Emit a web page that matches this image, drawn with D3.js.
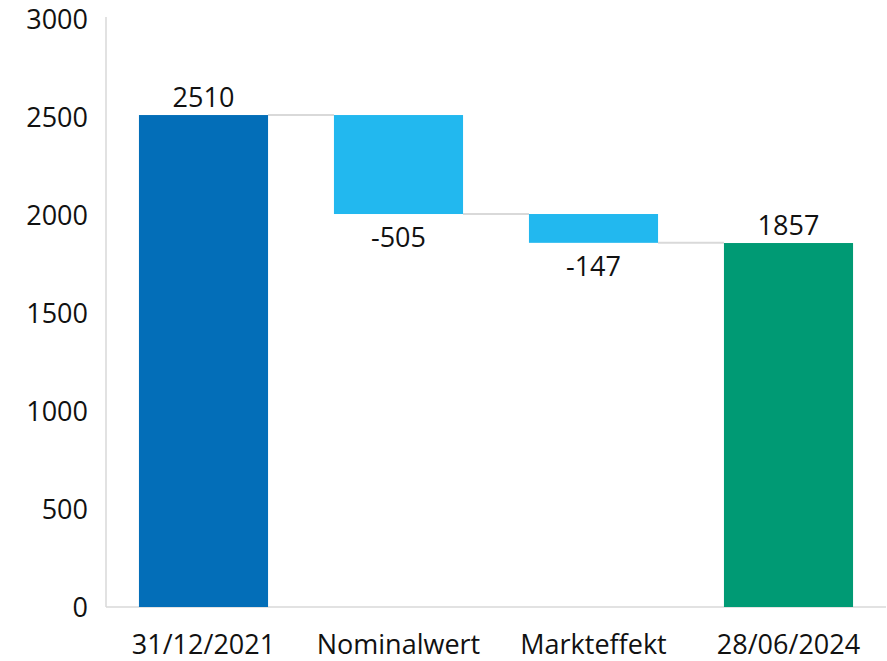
<!DOCTYPE html>
<html>
<head>
<meta charset="utf-8">
<script src="https://cdn.jsdelivr.net/npm/d3@7"></script>
<style>
  body { margin: 0; background: #fff; }
  text { font-family: "Open Sans", "Noto Sans", sans-serif; }
</style>
</head>
<body>
<script>
// waterfall data
var categories = ["31/12/2021", "Nominalwert", "Markteffekt", "28/06/2024"];
var values = [2510, -505, -147, 1857];
var kinds = ["total", "delta", "delta", "total"];
var yTicks = [0, 500, 1000, 1500, 2000, 2500, 3000];

var colors = { start: "#036EB8", delta: "#22B8EF", end: "#009A74" };

var width = 887, height = 661;
var plotLeft = 106, plotRight = 886, plotTop = 19, plotBottom = 607;
var fontSize = 27;

// build bars: start / end of each step
var bars = [];
var running = 0;
for (var i = 0; i < values.length; i++) {
    var b = { cat: categories[i], value: values[i], kind: kinds[i] };
    if (kinds[i] === "total") {
        b.y0 = 0; b.y1 = values[i];
        running = values[i];
    } else {
        b.y0 = running; b.y1 = running + values[i];
        running = b.y1;
    }
    b.color = i === 0 ? colors.start : (kinds[i] === "total" ? colors.end : colors.delta);
    bars.push(b);
}

var svg = d3.select("body").append("svg")
    .attr("width", width)
    .attr("height", height);

var x = d3.scaleBand()
    .domain(categories)
    .range([plotLeft, plotRight])
    .paddingInner(0.338)
    .paddingOuter(0.169);

var y = d3.scaleLinear()
    .domain([0, 3000])
    .range([plotBottom, plotTop]);

// axis lines
svg.append("line")
    .attr("x1", plotLeft).attr("x2", plotLeft)
    .attr("y1", y(3000) - 2).attr("y2", plotBottom)
    .attr("stroke", "#d9d9d9").attr("stroke-width", 1.5);

svg.append("line")
    .attr("x1", plotLeft).attr("x2", plotRight)
    .attr("y1", plotBottom).attr("y2", plotBottom)
    .attr("stroke", "#d9d9d9").attr("stroke-width", 1.5);

// y tick labels
svg.append("g")
    .selectAll("text")
    .data(yTicks)
    .enter()
    .append("text")
    .attr("x", 88)
    .attr("y", function(d) { return y(d); })
    .attr("dy", "0.36em")
    .attr("text-anchor", "end")
    .attr("font-size", fontSize)
    .attr("fill", "#111")
    .text(function(d) { return d; });

// connectors
var conn = [];
for (var j = 0; j < bars.length - 1; j++) {
    conn.push({ from: bars[j], to: bars[j + 1], level: bars[j].y1 });
}
svg.append("g")
    .selectAll("line")
    .data(conn)
    .enter()
    .append("line")
    .attr("x1", function(d) { return x(d.from.cat) + x.bandwidth(); })
    .attr("x2", function(d) { return x(d.to.cat); })
    .attr("y1", function(d) { return y(d.level); })
    .attr("y2", function(d) { return y(d.level); })
    .attr("stroke", "#d9d9d9")
    .attr("stroke-width", 2);

// bars
svg.append("g")
    .selectAll("rect")
    .data(bars)
    .enter()
    .append("rect")
    .attr("x", function(d) { return x(d.cat); })
    .attr("width", x.bandwidth())
    .attr("y", function(d) { return y(Math.max(d.y0, d.y1)); })
    .attr("height", function(d) { return Math.abs(y(d.y0) - y(d.y1)); })
    .attr("fill", function(d) { return d.color; });

// value labels
svg.append("g")
    .selectAll("text")
    .data(bars)
    .enter()
    .append("text")
    .attr("x", function(d) { return x(d.cat) + x.bandwidth() / 2; })
    .attr("y", function(d) {
        if (d.value < 0) return y(d.y1) + 23;
        return y(d.y1) - 18;
    })
    .attr("dy", "0.36em")
    .attr("text-anchor", "middle")
    .attr("font-size", fontSize)
    .attr("fill", "#111")
    .text(function(d) { return d.value; });

// category labels
svg.append("g")
    .selectAll("text")
    .data(categories)
    .enter()
    .append("text")
    .attr("x", function(d) { return x(d) + x.bandwidth() / 2; })
    .attr("y", 644)
    .attr("dy", "0.36em")
    .attr("text-anchor", "middle")
    .attr("font-size", fontSize)
    .attr("fill", "#111")
    .text(function(d) { return d; });
</script>
</body>
</html>
